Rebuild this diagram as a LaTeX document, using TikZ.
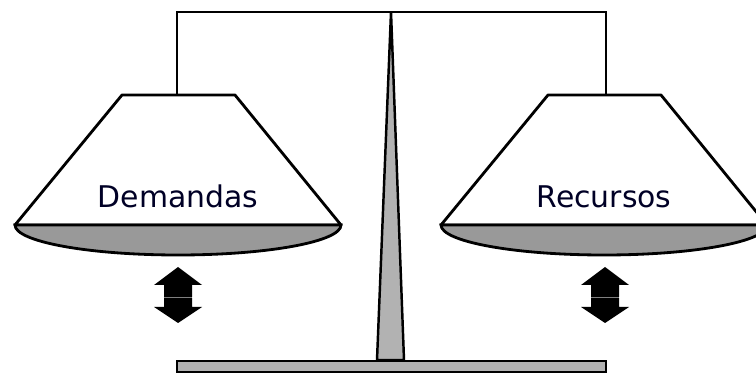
\documentclass[tikz,border=0pt]{standalone}
\usepackage{fontspec}
\setmainfont{DejaVu Sans}
\begin{document}
\begin{tikzpicture}[x=0.02cm, y=-0.02cm, line width=1.6pt,
  pan/.style={draw, fill=white, line join=round},
  dish/.style={draw, fill=black!40},
  post/.style={draw, fill=black!30, line width=1.4pt},
  updown/.style={fill=black},
  lbl/.style={font=\fontsize{17}{18}\selectfont, anchor=base, text=black!85!blue}]
\useasboundingbox (0,0) rectangle (756,374);
\begin{scope}
\clip (0,0) rectangle (756,374);
% central post and base
\draw[post] (377,360) -- (391,12) -- (404,360) -- cycle;
\draw[post] (177,361) rectangle (606,372);
% beam
\draw (177,95) -- (177,12) -- (606,12) -- (606,95);
% left pan
\draw[pan] (122,95) -- (235,95) -- (341,225) -- (15,225) -- cycle;
\draw[dish] (15,225) arc (180:0:163 and 30) -- cycle;
\node[lbl] (dem) at (178,208) {Demandas};
% right pan
\draw[pan] (548,95) -- (661,95) -- (767,225) -- (441,225) -- cycle;
\draw[dish] (441,225) arc (180:0:163 and 30) -- cycle;
\node[lbl] (rec) at (604,208) {Recursos};
% arrows under the pans
\foreach \cx in {178,605} {
  \fill[updown] (\cx,267) -- (\cx+24,285) -- (\cx+14,285) -- (\cx+14,297)
    -- (\cx-14,297) -- (\cx-14,285) -- (\cx-24,285) -- cycle;
  \fill[updown] (\cx,323) -- (\cx+24,307) -- (\cx+14,307) -- (\cx+14,298)
    -- (\cx-14,298) -- (\cx-14,307) -- (\cx-24,307) -- cycle;
  \fill[black!50] (\cx-14,297) rectangle (\cx+14,298);
}
\end{scope}
\end{tikzpicture}
\end{document}
